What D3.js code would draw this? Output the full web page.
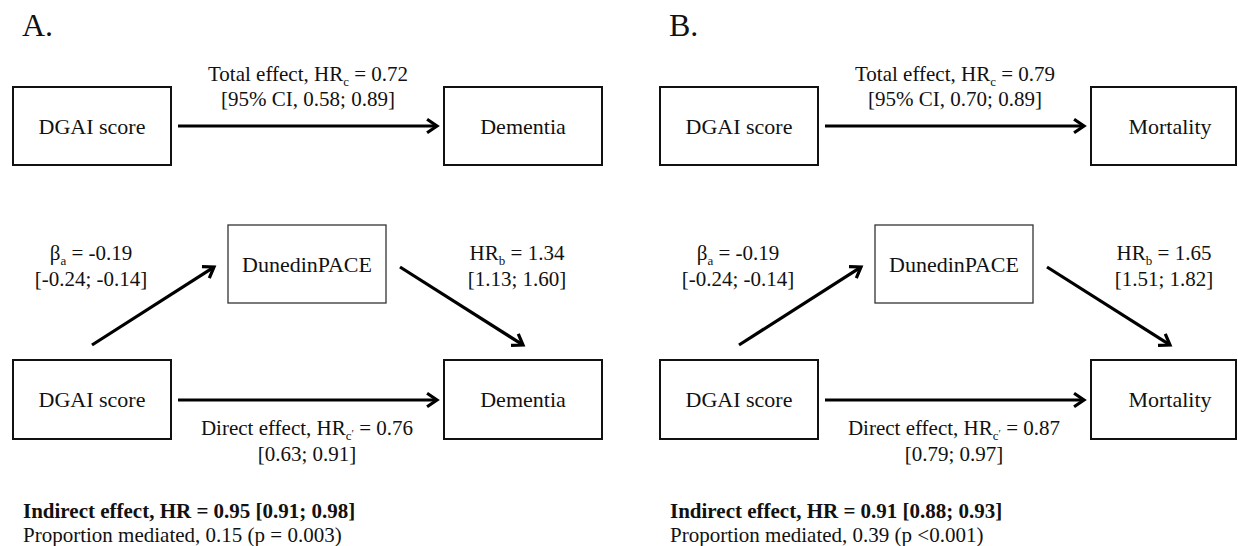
<!DOCTYPE html>
<html>
<head>
<meta charset="utf-8">
<script src="https://cdn.jsdelivr.net/npm/d3@7"></script>
<style>
  html, body { margin: 0; padding: 0; background: #fff; }
  svg { display: block; }
</style>
</head>
<body>
<div id="chart"></div>
<script>
// ---------- data ----------
const panels = ["A.", "B."];
const exposure = ["DGAI score", "DGAI score"];
const mediator = ["DunedinPACE", "DunedinPACE"];
const outcomes = ["Dementia", "Mortality"];
const totalHR = [0.72, 0.79];
const totalCI = [[0.58, 0.89], [0.70, 0.89]];
const betaA = [-0.19, -0.19];
const betaACI = [[-0.24, -0.14], [-0.24, -0.14]];
const hrB = [1.34, 1.65];
const hrBCI = [[1.13, 1.60], [1.51, 1.82]];
const directHR = [0.76, 0.87];
const directCI = [[0.63, 0.91], [0.79, 0.97]];
const indirectHR = [0.95, 0.91];
const indirectCI = [[0.91, 0.98], [0.88, 0.93]];
const propMediated = [0.15, 0.39];
const pValues = ["p = 0.003", "p <0.001"];

// ---------- layout ----------
const W = 1238, H = 546;
const FONT = "'Liberation Serif', 'DejaVu Serif', serif";
const svg = d3.select("#chart").append("svg").attr("width", W).attr("height", H)
  .attr("font-family", FONT);

const panelX = d3.scaleOrdinal().domain(panels).range([0, 647]);
const fmt = v => d3.format(".2f")(v).replace("\u2212", "-");

const BOX_W = 158;
const FS = 21, BOX_FS = 22;
let panelOff = 0;

function box(g, x, y, w, h, label, thin) {
  const clipW = Math.min(w, W - 2 - (x + panelOff));
  g.append("rect").attr("x", x).attr("y", y).attr("width", clipW).attr("height", h)
    .attr("fill", "none")
    .attr("stroke", thin ? "#333" : "#111")
    .attr("stroke-width", thin ? 1.3 : 2);
  g.append("text").attr("x", x + w / 2).attr("y", y + h / 2 + 7.5)
    .attr("font-family", FONT).attr("fill", "#111")
    .attr("text-anchor", "middle").attr("font-size", BOX_FS).text(label);
}

function arrow(g, x1, y1, x2, y2) {
  const ang = Math.atan2(y2 - y1, x2 - x1);
  const L = 12, a = 0.6;
  g.append("line").attr("x1", x1).attr("y1", y1).attr("x2", x2 - Math.cos(ang) * 1.5).attr("y2", y2 - Math.sin(ang) * 1.5)
    .attr("stroke", "#000").attr("stroke-width", 3.2);
  const p = d3.path();
  p.moveTo(x2 - L * Math.cos(ang - a), y2 - L * Math.sin(ang - a));
  p.lineTo(x2, y2);
  p.lineTo(x2 - L * Math.cos(ang + a), y2 - L * Math.sin(ang + a));
  g.append("path").attr("d", p.toString()).attr("fill", "none")
    .attr("stroke", "#000").attr("stroke-width", 3.2).attr("stroke-linejoin", "miter");
}

function richText(g, x, y, parts, anchor, opts = {}) {
  const t = g.append("text").attr("x", x).attr("y", y)
    .attr("font-family", FONT).attr("fill", "#111")
    .attr("text-anchor", anchor || "middle").attr("font-size", opts.fs || FS);
  if (opts.bold) t.attr("font-weight", "bold");
  let prev = false;
  parts.forEach(([s, kind]) => {
    const ts = t.append("tspan").text(s);
    if (kind === "sub") {
      ts.attr("font-size", 13).attr("dy", 5);
      prev = "sub";
    } else if (kind === "subsup") {
      ts.attr("font-size", 11).attr("dy", -3);
      prev = "sup";
    } else {
      if (prev === "sub") ts.attr("dy", -5);
      else if (prev === "sup") ts.attr("dy", -2);
      prev = false;
    }
  });
  return t;
}

panels.forEach((p, i) => {
  panelOff = panelX(p);
  const g = svg.append("g").attr("transform", `translate(${panelOff},0)`);

  g.append("text").attr("x", 22).attr("y", 36).attr("font-size", 32)
    .attr("font-family", FONT).attr("fill", "#111").text(p);

  box(g, 13, 87, BOX_W, 78, exposure[i]);
  box(g, 444, 87, BOX_W, 78, outcomes[i]);
  arrow(g, 178, 126, 437, 126);
  richText(g, 308, 81, [["Total effect, HR"], ["c", "sub"], [" = " + fmt(totalHR[i])]]);
  richText(g, 308, 106, [[`[95% CI, ${fmt(totalCI[i][0])}; ${fmt(totalCI[i][1])}]`]]);

  box(g, 228, 225, BOX_W, 78, mediator[i], true);
  box(g, 13, 360, BOX_W, 79, exposure[i]);
  box(g, 444, 360, BOX_W, 79, outcomes[i]);

  arrow(g, 92, 345, 214, 267);
  arrow(g, 400, 267, 523, 345);
  arrow(g, 178, 400, 437, 400);

  richText(g, 91, 260, [["\u03b2"], ["a", "sub"], [" = " + fmt(betaA[i])]]);
  richText(g, 91, 286, [[`[${fmt(betaACI[i][0])}; ${fmt(betaACI[i][1])}]`]]);

  richText(g, 517, 260, [["HR"], ["b", "sub"], [" = " + fmt(hrB[i])]]);
  richText(g, 517, 286, [[`[${fmt(hrBCI[i][0])}; ${fmt(hrBCI[i][1])}]`]]);

  richText(g, 307, 435, [["Direct effect, HR"], ["c", "sub"], ["\u2032", "subsup"], [" = " + fmt(directHR[i])]]);
  richText(g, 307, 461, [[`[${fmt(directCI[i][0])}; ${fmt(directCI[i][1])}]`]]);

  richText(g, 23, 518, [[`Indirect effect, HR = ${fmt(indirectHR[i])} [${fmt(indirectCI[i][0])}; ${fmt(indirectCI[i][1])}]`]], "start", { bold: true });
  richText(g, 23, 542, [[`Proportion mediated, ${fmt(propMediated[i])} (${pValues[i]})`]], "start");
});
</script>
</body>
</html>
